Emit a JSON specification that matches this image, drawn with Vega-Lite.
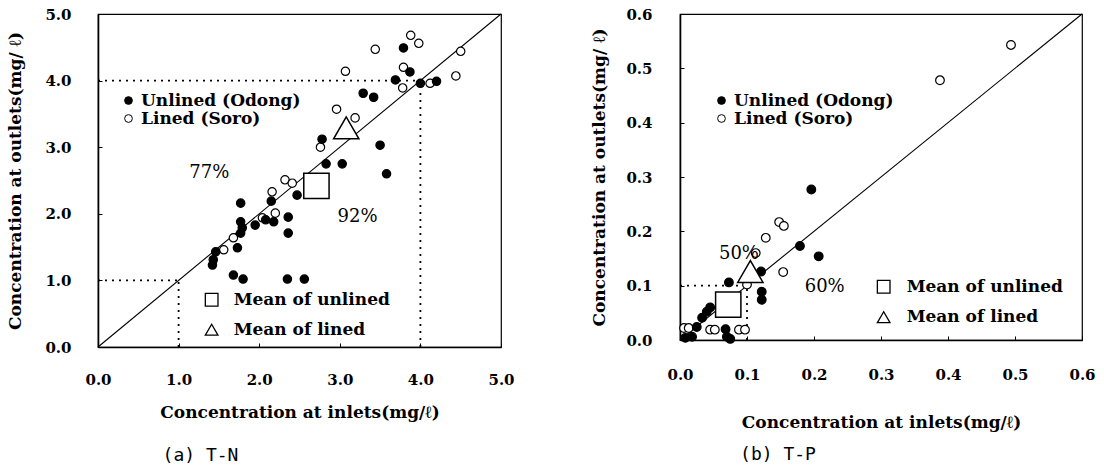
{
  "$schema": "https://vega.github.io/schema/vega-lite/v6.json",
  "background": "white",
  "padding": {"left": 6, "top": 6, "right": 5, "bottom": 4},
  "spacing": 75,
  "config": {
    "view": {"stroke": "black", "strokeWidth": 1.2},
    "axis": {"grid": false, "domainColor": "black", "domainWidth": 1.6, "tickColor": "black", "tickSize": -4, "tickWidth": 1,
      "labelFont": "DejaVu Serif", "labelFontWeight": "bold", "labelFontSize": 15, "labelColor": "black",
      "titleFont": "DejaVu Serif", "titleFontWeight": "bold", "titleFontSize": 17, "titleColor": "black",
      "labelFlush": false, "labelOverlap": false},
    "legend": {"labelFont": "DejaVu Serif", "labelFontWeight": "bold", "labelFontSize": 17, "labelColor": "black", "padding": 0, "titlePadding": 0},
    "text": {"font": "DejaVu Serif", "fontSize": 18, "color": "black"}
  },
  "resolve": {"scale": {"fill": "independent", "shape": "independent"}, "legend": {"fill": "independent", "shape": "independent"}},
  "datasets": {
    "diag_a": [{"x": 0, "y": 0, "x2": 5, "y2": 5}],
    "dots_a": [
      {"x": 0, "y": 1, "x2": 1, "y2": 1},
      {"x": 1, "y": 0, "x2": 1, "y2": 1},
      {"x": 0, "y": 4, "x2": 4, "y2": 4},
      {"x": 4, "y": 0, "x2": 4, "y2": 4}
    ],
    "pts_a": [
      {"x": 3.88, "y": 4.68, "group": "Lined (Soro)"},
      {"x": 3.98, "y": 4.56, "group": "Lined (Soro)"},
      {"x": 3.44, "y": 4.47, "group": "Lined (Soro)"},
      {"x": 4.50, "y": 4.44, "group": "Lined (Soro)"},
      {"x": 3.79, "y": 4.20, "group": "Lined (Soro)"},
      {"x": 3.07, "y": 4.14, "group": "Lined (Soro)"},
      {"x": 4.44, "y": 4.07, "group": "Lined (Soro)"},
      {"x": 3.78, "y": 3.89, "group": "Lined (Soro)"},
      {"x": 4.12, "y": 3.96, "group": "Lined (Soro)"},
      {"x": 2.96, "y": 3.57, "group": "Lined (Soro)"},
      {"x": 3.19, "y": 3.44, "group": "Lined (Soro)"},
      {"x": 2.76, "y": 3.00, "group": "Lined (Soro)"},
      {"x": 2.32, "y": 2.51, "group": "Lined (Soro)"},
      {"x": 2.41, "y": 2.46, "group": "Lined (Soro)"},
      {"x": 2.16, "y": 2.33, "group": "Lined (Soro)"},
      {"x": 2.20, "y": 2.01, "group": "Lined (Soro)"},
      {"x": 2.04, "y": 1.94, "group": "Lined (Soro)"},
      {"x": 1.68, "y": 1.64, "group": "Lined (Soro)"},
      {"x": 1.56, "y": 1.46, "group": "Lined (Soro)"},
      {"x": 3.79, "y": 4.49, "group": "Unlined (Odong)"},
      {"x": 3.87, "y": 4.13, "group": "Unlined (Odong)"},
      {"x": 3.69, "y": 4.01, "group": "Unlined (Odong)"},
      {"x": 4.00, "y": 3.96, "group": "Unlined (Odong)"},
      {"x": 4.20, "y": 3.99, "group": "Unlined (Odong)"},
      {"x": 3.29, "y": 3.81, "group": "Unlined (Odong)"},
      {"x": 3.42, "y": 3.75, "group": "Unlined (Odong)"},
      {"x": 2.78, "y": 3.12, "group": "Unlined (Odong)"},
      {"x": 3.50, "y": 3.03, "group": "Unlined (Odong)"},
      {"x": 2.83, "y": 2.75, "group": "Unlined (Odong)"},
      {"x": 3.03, "y": 2.75, "group": "Unlined (Odong)"},
      {"x": 3.58, "y": 2.60, "group": "Unlined (Odong)"},
      {"x": 2.47, "y": 2.28, "group": "Unlined (Odong)"},
      {"x": 2.15, "y": 2.19, "group": "Unlined (Odong)"},
      {"x": 1.77, "y": 2.16, "group": "Unlined (Odong)"},
      {"x": 1.77, "y": 1.88, "group": "Unlined (Odong)"},
      {"x": 1.79, "y": 1.79, "group": "Unlined (Odong)"},
      {"x": 1.77, "y": 1.71, "group": "Unlined (Odong)"},
      {"x": 1.95, "y": 1.83, "group": "Unlined (Odong)"},
      {"x": 2.08, "y": 1.91, "group": "Unlined (Odong)"},
      {"x": 2.18, "y": 1.88, "group": "Unlined (Odong)"},
      {"x": 2.36, "y": 1.95, "group": "Unlined (Odong)"},
      {"x": 2.36, "y": 1.71, "group": "Unlined (Odong)"},
      {"x": 1.73, "y": 1.49, "group": "Unlined (Odong)"},
      {"x": 1.46, "y": 1.43, "group": "Unlined (Odong)"},
      {"x": 1.43, "y": 1.31, "group": "Unlined (Odong)"},
      {"x": 1.42, "y": 1.23, "group": "Unlined (Odong)"},
      {"x": 1.68, "y": 1.08, "group": "Unlined (Odong)"},
      {"x": 1.80, "y": 1.02, "group": "Unlined (Odong)"},
      {"x": 2.35, "y": 1.02, "group": "Unlined (Odong)"},
      {"x": 2.56, "y": 1.02, "group": "Unlined (Odong)"}
    ],
    "means_a": [
      {"x": 2.71, "y": 2.42, "type": "Mean of unlined"},
      {"x": 3.08, "y": 3.29, "type": "Mean of lined"}
    ],
    "key_a": [
      {"x": 1.41, "y": 0.71, "type": "Mean of unlined"},
      {"x": 1.41, "y": 0.26, "type": "Mean of lined"}
    ],
    "notes_a": [
      {"x": 1.38, "y": 2.62, "label": "77%"},
      {"x": 3.22, "y": 1.95, "label": "92%"}
    ],
    "diag_b": [{"x": 0, "y": 0, "x2": 0.6, "y2": 0.6}],
    "dots_b": [
      {"x": 0, "y": 0.1, "x2": 0.1, "y2": 0.1},
      {"x": 0.1, "y": 0, "x2": 0.1, "y2": 0.1}
    ],
    "pts_b": [
      {"x": 0.494, "y": 0.543, "group": "Lined (Soro)"},
      {"x": 0.388, "y": 0.478, "group": "Lined (Soro)"},
      {"x": 0.148, "y": 0.217, "group": "Lined (Soro)"},
      {"x": 0.155, "y": 0.210, "group": "Lined (Soro)"},
      {"x": 0.128, "y": 0.188, "group": "Lined (Soro)"},
      {"x": 0.113, "y": 0.160, "group": "Lined (Soro)"},
      {"x": 0.154, "y": 0.125, "group": "Lined (Soro)"},
      {"x": 0.006, "y": 0.022, "group": "Lined (Soro)"},
      {"x": 0.013, "y": 0.022, "group": "Lined (Soro)"},
      {"x": 0.045, "y": 0.019, "group": "Lined (Soro)"},
      {"x": 0.052, "y": 0.019, "group": "Lined (Soro)"},
      {"x": 0.088, "y": 0.019, "group": "Lined (Soro)"},
      {"x": 0.097, "y": 0.019, "group": "Lined (Soro)"},
      {"x": 0.100, "y": 0.102, "group": "Lined (Soro)"},
      {"x": 0.196, "y": 0.277, "group": "Unlined (Odong)"},
      {"x": 0.179, "y": 0.173, "group": "Unlined (Odong)"},
      {"x": 0.207, "y": 0.154, "group": "Unlined (Odong)"},
      {"x": 0.121, "y": 0.126, "group": "Unlined (Odong)"},
      {"x": 0.073, "y": 0.106, "group": "Unlined (Odong)"},
      {"x": 0.122, "y": 0.089, "group": "Unlined (Odong)"},
      {"x": 0.122, "y": 0.074, "group": "Unlined (Odong)"},
      {"x": 0.045, "y": 0.060, "group": "Unlined (Odong)"},
      {"x": 0.040, "y": 0.052, "group": "Unlined (Odong)"},
      {"x": 0.033, "y": 0.041, "group": "Unlined (Odong)"},
      {"x": 0.025, "y": 0.024, "group": "Unlined (Odong)"},
      {"x": 0.018, "y": 0.006, "group": "Unlined (Odong)"},
      {"x": 0.008, "y": 0.004, "group": "Unlined (Odong)"},
      {"x": 0.068, "y": 0.020, "group": "Unlined (Odong)"},
      {"x": 0.070, "y": 0.006, "group": "Unlined (Odong)"},
      {"x": 0.075, "y": 0.002, "group": "Unlined (Odong)"}
    ],
    "means_b": [
      {"x": 0.072, "y": 0.065, "type": "Mean of unlined"},
      {"x": 0.105, "y": 0.126, "type": "Mean of lined"}
    ],
    "key_b": [
      {"x": 0.304, "y": 0.098, "type": "Mean of unlined"},
      {"x": 0.304, "y": 0.042, "type": "Mean of lined"}
    ],
    "notes_b": [
      {"x": 0.088, "y": 0.158, "label": "50%"},
      {"x": 0.216, "y": 0.097, "label": "60%"}
    ]
  },
  "hconcat": [
    {
      "width": 403,
      "height": 333,
      "title": {"text": "(a) T-N", "orient": "bottom", "anchor": "middle", "dx": -99, "offset": 27, "font": "DejaVu Sans Mono", "fontSize": 18, "fontWeight": "normal", "color": "black"},
      "encoding": {
        "x": {"field": "x", "type": "quantitative", "title": "Concentration at inlets(mg/ℓ)",
          "scale": {"domain": [0, 5], "nice": false, "zero": false},
          "axis": {"values": [0, 1, 2, 3, 4, 5], "format": ".1f", "labelPadding": 29, "titlePadding": 17}},
        "y": {"field": "y", "type": "quantitative", "title": "Concentration at outlets(mg/ ℓ)",
          "scale": {"domain": [0, 5], "nice": false, "zero": false},
          "axis": {"values": [0, 1, 2, 3, 4, 5], "format": ".1f", "labelPadding": 31, "titlePadding": 20}}
      },
      "layer": [
        {
          "data": {"name": "diag_a"},
          "mark": {"type": "rule", "color": "black", "strokeWidth": 1.1},
          "encoding": {"x2": {"field": "x2"}, "y2": {"field": "y2"}}
        },
        {
          "data": {"name": "dots_a"},
          "mark": {"type": "rule", "color": "black", "strokeWidth": 1.8, "strokeDash": [2, 5]},
          "encoding": {"x2": {"field": "x2"}, "y2": {"field": "y2"}}
        },
        {
          "data": {"name": "pts_a"},
          "mark": {"type": "point", "shape": "circle", "size": 70, "stroke": "black", "strokeWidth": 1.2, "opacity": 1, "fillOpacity": 1},
          "encoding": {
            "fill": {"field": "group", "type": "nominal",
              "scale": {"domain": ["Unlined (Odong)", "Lined (Soro)"], "range": ["black", "white"]},
              "legend": {"orient": "none", "legendX": 22, "legendY": 78, "title": null, "symbolType": "circle", "symbolSize": 60,
                "symbolStrokeColor": "black", "symbolStrokeWidth": 1, "labelOffset": 4, "rowPadding": 0}}
          }
        },
        {
          "data": {"name": "means_a"},
          "mark": {"type": "point", "filled": true, "size": 640, "fill": "white", "stroke": "black", "strokeWidth": 1.5, "opacity": 1},
          "encoding": {
            "shape": {"field": "type", "type": "nominal",
              "scale": {"domain": ["Mean of unlined", "Mean of lined"], "range": ["square", "triangle-up"]}, "legend": null}
          }
        },
        {
          "data": {"name": "key_a"},
          "mark": {"type": "point", "filled": true, "size": 160, "fill": "white", "stroke": "black", "strokeWidth": 1.3, "opacity": 1},
          "encoding": {
            "shape": {"field": "type", "type": "nominal",
              "scale": {"domain": ["Mean of unlined", "Mean of lined"], "range": ["square", "triangle-up"]}, "legend": null}
          }
        },
        {
          "data": {"name": "key_a"},
          "mark": {"type": "text", "align": "left", "baseline": "middle", "dx": 22, "font": "DejaVu Serif", "fontWeight": "bold", "fontSize": 17},
          "encoding": {"text": {"field": "type"}}
        },
        {
          "data": {"name": "notes_a"},
          "mark": {"type": "text", "align": "center", "baseline": "middle"},
          "encoding": {"text": {"field": "label"}}
        }
      ]
    },
    {
      "width": 402,
      "height": 326,
      "title": {"text": "(b) T-P", "orient": "bottom", "anchor": "middle", "dx": -103, "offset": 16, "font": "DejaVu Sans Mono", "fontSize": 18, "fontWeight": "normal", "color": "black"},
      "encoding": {
        "x": {"field": "x", "type": "quantitative", "title": "Concentration at inlets(mg/ℓ)",
          "scale": {"domain": [0, 0.6], "nice": false, "zero": false},
          "axis": {"values": [0, 0.1, 0.2, 0.3, 0.4, 0.5, 0.6], "format": ".1f", "labelPadding": 31, "titlePadding": 32}},
        "y": {"field": "y", "type": "quantitative", "title": "Concentration at outlets(mg/ ℓ)",
          "scale": {"domain": [0, 0.6], "nice": false, "zero": false},
          "axis": {"values": [0, 0.1, 0.2, 0.3, 0.4, 0.5, 0.6], "format": ".1f", "labelPadding": 32, "titlePadding": 17}}
      },
      "layer": [
        {
          "data": {"name": "diag_b"},
          "mark": {"type": "rule", "color": "black", "strokeWidth": 1.1},
          "encoding": {"x2": {"field": "x2"}, "y2": {"field": "y2"}}
        },
        {
          "data": {"name": "dots_b"},
          "mark": {"type": "rule", "color": "black", "strokeWidth": 1.8, "strokeDash": [2, 5]},
          "encoding": {"x2": {"field": "x2"}, "y2": {"field": "y2"}}
        },
        {
          "data": {"name": "pts_b"},
          "mark": {"type": "point", "shape": "circle", "size": 75, "stroke": "black", "strokeWidth": 1.2, "opacity": 1, "fillOpacity": 1},
          "encoding": {
            "fill": {"field": "group", "type": "nominal",
              "scale": {"domain": ["Unlined (Odong)", "Lined (Soro)"], "range": ["black", "white"]},
              "legend": {"orient": "none", "legendX": 33, "legendY": 78, "title": null, "symbolType": "circle", "symbolSize": 60,
                "symbolStrokeColor": "black", "symbolStrokeWidth": 1, "labelOffset": 4, "rowPadding": 0}}
          }
        },
        {
          "data": {"name": "means_b"},
          "mark": {"type": "point", "filled": true, "size": 640, "fill": "white", "stroke": "black", "strokeWidth": 1.5, "opacity": 1},
          "encoding": {
            "shape": {"field": "type", "type": "nominal",
              "scale": {"domain": ["Mean of unlined", "Mean of lined"], "range": ["square", "triangle-up"]}, "legend": null}
          }
        },
        {
          "data": {"name": "key_b"},
          "mark": {"type": "point", "filled": true, "size": 160, "fill": "white", "stroke": "black", "strokeWidth": 1.3, "opacity": 1},
          "encoding": {
            "shape": {"field": "type", "type": "nominal",
              "scale": {"domain": ["Mean of unlined", "Mean of lined"], "range": ["square", "triangle-up"]}, "legend": null}
          }
        },
        {
          "data": {"name": "key_b"},
          "mark": {"type": "text", "align": "left", "baseline": "middle", "dx": 23, "font": "DejaVu Serif", "fontWeight": "bold", "fontSize": 17},
          "encoding": {"text": {"field": "type"}}
        },
        {
          "data": {"name": "notes_b"},
          "mark": {"type": "text", "align": "center", "baseline": "middle"},
          "encoding": {"text": {"field": "label"}}
        }
      ]
    }
  ]
}
